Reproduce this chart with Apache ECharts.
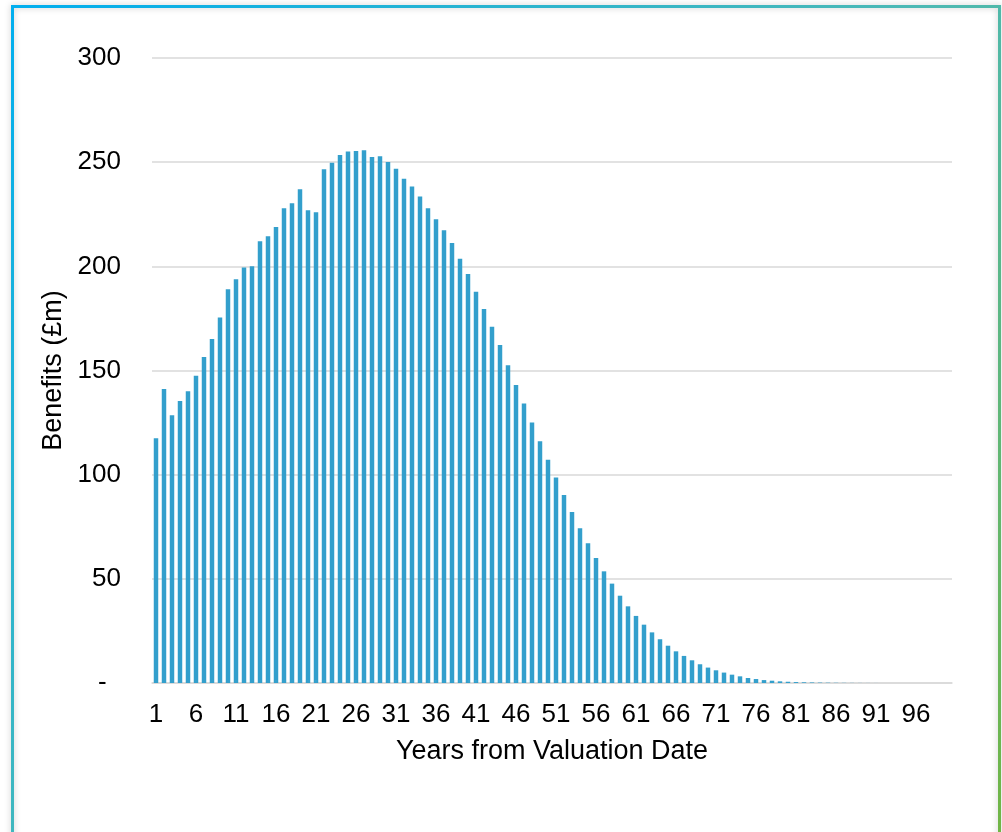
<!DOCTYPE html>
<html>
<head>
<meta charset="utf-8">
<title>Benefits by year</title>
<script src="https://cdn.jsdelivr.net/npm/echarts@6/dist/echarts.min.js"></script>
<style>
  html, body { margin: 0; padding: 0; background: #fff; }
  #chart { width: 1002px; height: 832px; }
</style>
</head>
<body>
<div id="chart"></div>
<script>
// years 1..100
var years = [];
for (var i = 1; i <= 100; i++) years.push(String(i));

// benefits (£m)
var benefits = [
  117.5, 141.1, 128.5, 135.4, 140.0, 147.5, 156.5, 165.1, 175.4, 189.0,
  193.8, 199.4, 200.0, 212.0, 214.4, 218.9, 227.9, 230.3, 237.0, 226.9,
  226.0, 246.6, 249.7, 253.5, 255.1, 255.4, 255.7, 252.5, 252.8, 250.1,
  246.9, 242.0, 238.3, 233.5, 227.9, 222.6, 217.3, 211.2, 203.7, 196.3,
  187.8, 179.5, 171.0, 162.2, 152.5, 143.1, 134.2, 125.1, 116.0, 107.2,
  98.6, 90.3, 82.1, 74.3, 67.1, 60.0, 53.6, 47.7, 41.9, 36.8,
  32.2, 28.0, 24.3, 21.0, 17.9, 15.2, 13.0, 10.9, 9.0, 7.4,
  6.1, 5.0, 4.0, 3.2, 2.4, 1.9, 1.4, 1.1, 0.8, 0.6,
  0.45, 0.35, 0.27, 0.2, 0.15, 0.11, 0.08, 0.06, 0.04, 0.03,
  0.02, 0.015, 0.01, 0.01, 0.01, 0, 0, 0, 0, 0
];

var yTicks = [0, 50, 100, 150, 200, 250, 300];

var chart = echarts.init(document.getElementById("chart"));
chart.setOption({
  animation: false,
  textStyle: { fontFamily: "Liberation Sans, Arial, sans-serif" },
  grid: { left: 152, right: 50, top: 58, bottom: 149 },
  // frame round the chart
  graphic: [
    {
      type: "rect",
      shape: { x: 12.5, y: 6.5, width: 987, height: 900 },
      style: {
        fill: null,
        lineWidth: 3,
        stroke: new echarts.graphic.LinearGradient(0, 0, 1, 1, [
          { offset: 0, color: "#00aeef" },
          { offset: 0.5, color: "#4cb9b5" },
          { offset: 1, color: "#74b53c" }
        ]),
        shadowBlur: 6,
        shadowColor: "rgba(0,0,0,0.22)"
      },
      z: 10
    }
  ],
  xAxis: {
    type: "category",
    data: years,
    name: "Years from Valuation Date",
    nameLocation: "middle",
    nameGap: 55,
    nameTextStyle: { fontSize: 27, color: "#000" },
    axisTick: { show: false },
    axisLine: { lineStyle: { color: "#d9d9d9", width: 1.5 } },
    axisLabel: {
      interval: 4,
      fontSize: 26,
      color: "#000",
      margin: 19
    }
  },
  yAxis: {
    type: "value",
    min: yTicks[0],
    max: yTicks[yTicks.length - 1],
    interval: 50,
    name: "Benefits (£m)",
    nameLocation: "middle",
    nameGap: 80,
    nameTextStyle: { fontSize: 27, color: "#000" },
    axisLine: { show: false },
    axisTick: { show: false },
    splitLine: { lineStyle: { color: "#d9d9d9", width: 1.5 } },
    axisLabel: {
      fontSize: 26,
      color: "#000",
      margin: 31,
      formatter: function (v) {
        return v === 0 ? "-  " : String(v);
      }
    }
  },
  series: [
    {
      type: "bar",
      data: benefits,
      barWidth: "56%",
      itemStyle: { color: "#339fcc" }
    }
  ]
});
</script>
</body>
</html>
